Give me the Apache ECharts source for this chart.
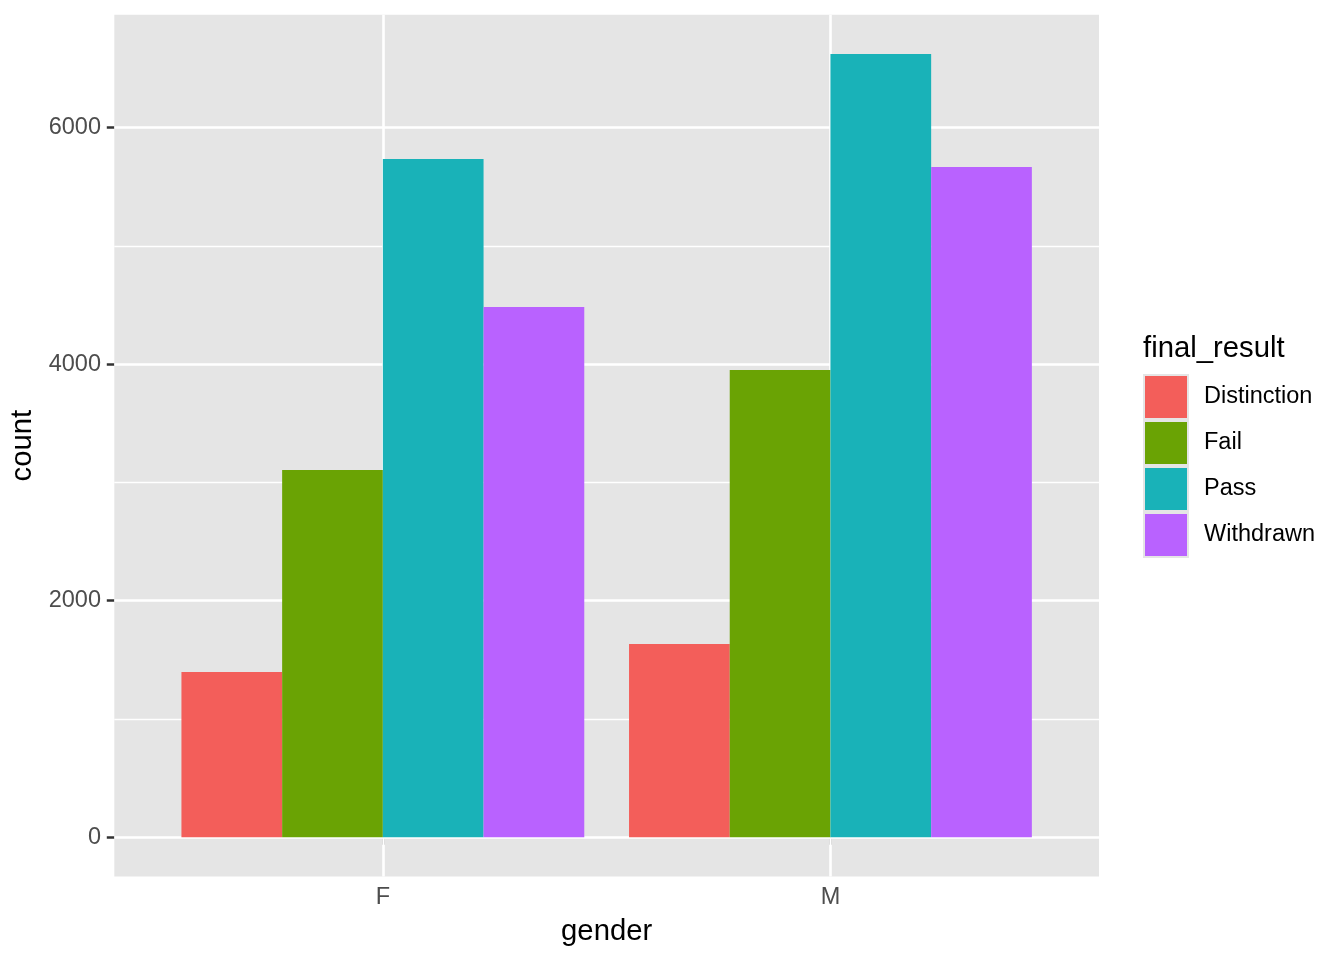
<!DOCTYPE html>
<html>
<head>
<meta charset="utf-8">
<script src="https://cdn.jsdelivr.net/npm/echarts@6/dist/echarts.min.js"></script>
<style>
html,body{margin:0;padding:0;background:#fff;}
#chart{width:1344px;height:960px;}
</style>
</head>
<body>
<div id="chart"></div>
<script>
// Data
const genders = ['F', 'M'];
const results = ['Distinction', 'Fail', 'Pass', 'Withdrawn'];
const distinction = [1398, 1634];
const fail = [3106, 3951];
const pass = [5735, 6623];
const withdrawn = [4484, 5667];
const yMajorTicks = [0, 2000, 4000, 6000];
const yMinorTicks = [1000, 3000, 5000];
const colors = ['#F35E5A', '#6AA304', '#19B2B8', '#B962FF'];

const seriesValues = [distinction, fail, pass, withdrawn];
const allVals = [].concat(distinction, fail, pass, withdrawn);
const dataMax = Math.max.apply(null, allVals);
const yMax = dataMax * 1.05;
const yMin = -dataMax * 0.05;
const xPos = genders.map((g, i) => i + 1);

const font = 'Liberation Sans, Arial, Helvetica, sans-serif';

const chart = echarts.init(document.getElementById('chart'), null, {renderer: 'canvas'});

const barSeries = results.map((name, si) => ({
  name: name,
  type: 'bar',
  data: seriesValues[si].map((v, i) => [xPos[i], v]),
  barWidth: '22.5%',
  barGap: '0%',
  itemStyle: {color: colors[si]},
  emphasis: {disabled: true},
  z: 3
}));

const gridSeries = {
  name: '_grid',
  type: 'line',
  data: [],
  z: 1,
  silent: true,
  markLine: {
    silent: true,
    z: 1,
    symbol: 'none',
    animation: false,
    label: {show: false},
    emphasis: {disabled: true},
    data: [].concat(
      yMajorTicks.map(v => ({yAxis: v, lineStyle: {color: '#FFFFFF', width: 2.6, type: 'solid'}})),
      yMinorTicks.map(v => ({yAxis: v, lineStyle: {color: '#FFFFFF', width: 1.3, type: 'solid'}})),
      xPos.map(v => ({xAxis: v, lineStyle: {color: '#FFFFFF', width: 2.6, type: 'solid'}}))
    )
  }
};

const option = {
  animation: false,
  backgroundColor: '#FFFFFF',
  textStyle: {fontFamily: font},
  title: {
    text: 'final_result',
    left: 1143,
    top: 334,
    padding: 0,
    textStyle: {fontFamily: font, fontSize: 29.3, fontWeight: 'normal', color: '#000000'}
  },
  legend: {
    data: results,
    orient: 'vertical',
    left: 1143,
    top: 374,
    padding: 0,
    itemWidth: 44,
    itemHeight: 44,
    itemGap: 0,
    icon: 'rect',
    itemStyle: {borderColor: '#E5E5E5', borderWidth: 2},
    textStyle: {fontFamily: font, fontSize: 23.5, color: '#000000', padding: [4, 0, 0, 11]},
    selectedMode: false
  },
  grid: {
    left: 114.3,
    right: 245,
    top: 14.8,
    bottom: 83.6,
    show: true,
    backgroundColor: '#E5E5E5',
    borderWidth: 0,
    containLabel: false
  },
  xAxis: {
    type: 'value',
    min: 0.4,
    max: 2.6,
    name: 'gender',
    nameLocation: 'middle',
    nameGap: 41,
    nameTextStyle: {fontFamily: font, fontSize: 29.3, color: '#000000'},
    axisLine: {show: false},
    splitLine: {show: false},
    axisTick: {show: true, length: 7.5, lineStyle: {color: '#333333', width: 2.5}, customValues: xPos},
    axisLabel: {
      show: true,
      margin: 9.5,
      fontFamily: font,
      fontSize: 23.5,
      color: '#4D4D4D',
      customValues: xPos,
      formatter: v => genders[Math.round(v) - 1] || ''
    }
  },
  yAxis: {
    type: 'value',
    min: yMin,
    max: yMax,
    name: 'count',
    nameLocation: 'middle',
    nameRotate: 90,
    nameGap: 66,
    nameTextStyle: {fontFamily: font, fontSize: 29.3, color: '#000000'},
    axisLine: {show: false},
    splitLine: {show: false},
    axisTick: {show: true, length: 7.5, lineStyle: {color: '#333333', width: 2.5}, customValues: yMajorTicks},
    axisLabel: {
      show: true,
      margin: 13.3,
      fontFamily: font,
      fontSize: 23.5,
      color: '#4D4D4D',
      customValues: yMajorTicks,
      formatter: v => String(v)
    }
  },
  series: [gridSeries].concat(barSeries)
};

chart.setOption(option);
</script>
</body>
</html>
